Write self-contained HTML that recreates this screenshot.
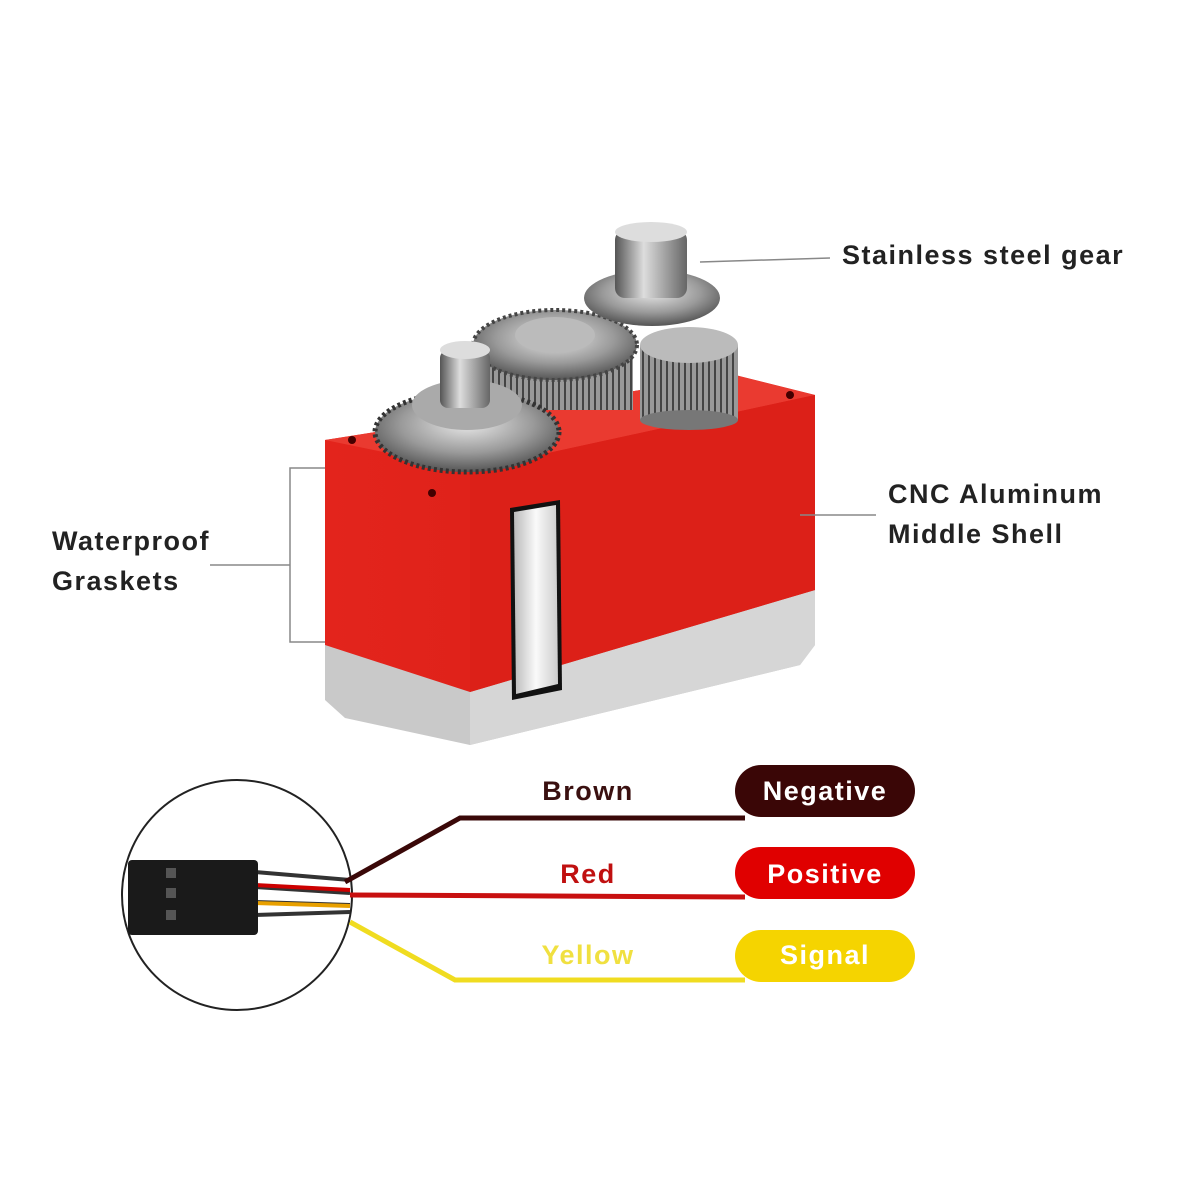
<!DOCTYPE html>
<html><head><meta charset="utf-8"><style>
html,body{margin:0;padding:0;background:#fff;width:1200px;height:1200px;overflow:hidden}
svg{display:block}
text{font-family:"Liberation Sans",sans-serif;font-weight:bold}
</style></head><body>
<svg width="1200" height="1200" viewBox="0 0 1200 1200">
<defs>
<radialGradient id="g" cx="50%" cy="40%" r="60%"><stop offset="0" stop-color="#e8e8e8"/><stop offset="0.6" stop-color="#9a9a9a"/><stop offset="1" stop-color="#555"/></radialGradient>
<linearGradient id="cyl" x1="0" x2="1"><stop offset="0" stop-color="#555"/><stop offset="0.4" stop-color="#ddd"/><stop offset="1" stop-color="#666"/></linearGradient>
<linearGradient id="red" x1="0" x2="1"><stop offset="0" stop-color="#e3241c"/><stop offset="1" stop-color="#d81e16"/></linearGradient>
<linearGradient id="wh" x1="0" x2="1"><stop offset="0" stop-color="#bbb"/><stop offset="0.5" stop-color="#fafafa"/><stop offset="1" stop-color="#ccc"/></linearGradient>
<pattern id="teeth" width="6" height="10" patternUnits="userSpaceOnUse"><rect width="6" height="10" fill="#999"/><rect width="2" height="10" fill="#444"/></pattern>
</defs>
<!-- gray bottom -->
<polygon points="325,630 470,685 815,585 815,645 800,665 470,745 345,718 325,700" fill="#c9c9c9"/>
<polygon points="470,685 815,585 815,645 800,665 470,745" fill="#d6d6d6"/>
<!-- red body -->
<polygon points="325,440 735,375 815,395 815,590 470,692 325,645" fill="url(#red)"/>
<polygon points="325,440 735,375 815,395 470,470" fill="#ea3a30"/>
<polygon points="470,470 815,395 815,590 470,692" fill="#dc2018"/>
<circle cx="352" cy="440" r="4" fill="#400"/><circle cx="432" cy="493" r="4" fill="#400"/><circle cx="790" cy="395" r="4" fill="#400"/>
<!-- white strip -->
<polygon points="510,508 560,500 562,690 512,700" fill="#111"/>
<polygon points="514,512 556,505 558,684 516,694" fill="url(#wh)"/>
<!-- gears -->
<rect x="640" y="345" width="98" height="75" fill="url(#teeth)"/>
<ellipse cx="689" cy="420" rx="49" ry="10" fill="#777"/>
<ellipse cx="689" cy="345" rx="49" ry="18" fill="#bbb"/>
<rect x="478" y="345" width="155" height="65" fill="url(#teeth)"/>
<ellipse cx="555" cy="345" rx="82" ry="35" fill="url(#g)" stroke="#444" stroke-width="4" stroke-dasharray="3 3"/>
<ellipse cx="555" cy="335" rx="40" ry="18" fill="#bbb"/>
<ellipse cx="652" cy="298" rx="68" ry="28" fill="url(#g)"/>
<rect x="615" y="230" width="72" height="68" rx="10" fill="url(#cyl)"/>
<ellipse cx="651" cy="232" rx="36" ry="10" fill="#ddd"/>
<ellipse cx="467" cy="432" rx="92" ry="40" fill="url(#g)" stroke="#333" stroke-width="5" stroke-dasharray="3 3"/>
<ellipse cx="467" cy="405" rx="55" ry="25" fill="#aaa"/>
<rect x="440" y="350" width="50" height="58" rx="8" fill="url(#cyl)"/>
<ellipse cx="465" cy="350" rx="25" ry="9" fill="#ddd"/>
<!-- leader lines -->
<g stroke="#888" stroke-width="1.5" fill="none">
<line x1="700" y1="262" x2="830" y2="258"/>
<line x1="800" y1="515" x2="876" y2="515"/>
<polyline points="325,468 290,468 290,642 325,642"/>
<line x1="210" y1="565" x2="290" y2="565"/>
</g>
<g letter-spacing="1.5">
<text x="842" y="264" font-size="27" fill="#222">Stainless steel gear</text>
<text x="888" y="503" font-size="27" fill="#222">CNC Aluminum</text>
<text x="888" y="543" font-size="27" fill="#222">Middle Shell</text>
<text x="52" y="550" font-size="27" fill="#222">Waterproof</text>
<text x="52" y="590" font-size="27" fill="#222">Graskets</text>
</g>
<!-- connector circle -->
<circle cx="237" cy="895" r="115" fill="#fff" stroke="#222" stroke-width="2"/>
<path d="M255,872 L350,880 M255,887 L350,893 M255,902 L350,905 M255,915 L350,912" stroke="#333" stroke-width="4"/>
<path d="M255,885 L350,890" stroke="#c00" stroke-width="4"/>
<path d="M255,903 L350,906" stroke="#e8a000" stroke-width="4"/>
<rect x="128" y="860" width="130" height="75" rx="4" fill="#1a1a1a"/>
<g fill="#555"><rect x="166" y="868" width="10" height="10"/><rect x="166" y="888" width="10" height="10"/><rect x="166" y="910" width="10" height="10"/></g>
<!-- wires -->
<polyline points="345,882 460,818 745,818" fill="none" stroke="#3a0808" stroke-width="5"/>
<polyline points="350,895 745,897" fill="none" stroke="#c81010" stroke-width="5"/>
<polyline points="350,922 455,980 745,980" fill="none" stroke="#f0dc20" stroke-width="5"/>
<!-- pills -->
<rect x="735" y="765" width="180" height="52" rx="26" fill="#3a0606"/>
<rect x="735" y="847" width="180" height="52" rx="26" fill="#e00000"/>
<rect x="735" y="930" width="180" height="52" rx="26" fill="#f5d400"/>
<g letter-spacing="1.5">
<text x="825" y="800" font-size="27" fill="#fff" text-anchor="middle">Negative</text>
<text x="825" y="883" font-size="27" fill="#fff" text-anchor="middle">Positive</text>
<text x="825" y="964" font-size="27" fill="#fff" text-anchor="middle">Signal</text>
<text x="588" y="800" font-size="27" fill="#3a1010" text-anchor="middle">Brown</text>
<text x="588" y="883" font-size="27" fill="#c01010" text-anchor="middle">Red</text>
<text x="588" y="964" font-size="27" fill="#f0e040" text-anchor="middle">Yellow</text>
</g>
</svg>
</body></html>
